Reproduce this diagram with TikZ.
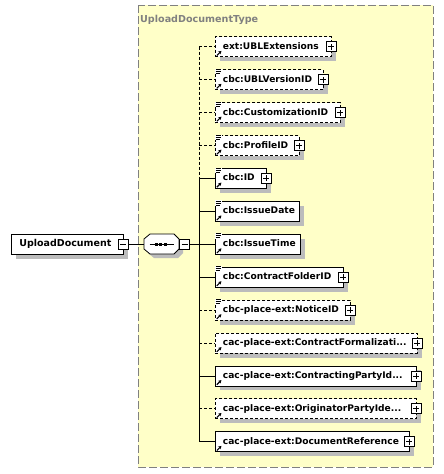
\documentclass[tikz,border=0pt]{standalone}
\usepackage{fontspec}
\setmainfont{DejaVu Sans}
\usetikzlibrary{arrows.meta}
\definecolor{bgyellow}{RGB}{255,255,200}
\definecolor{shadowgray}{RGB}{188,188,188}
\definecolor{framegray}{RGB}{128,128,128}
\newcommand{\docicon}[1]{%
  \fill[white] ([xshift=-0.5pt,yshift=0.5pt]#1.north west) rectangle ++(7,5.5);
  \draw[line width=0.7pt] (#1.north west) ++(0.5,0) -- ++(5.5,0);
  \draw[line width=0.7pt] (#1.north west) ++(0.5,2) -- ++(5.5,0);
  \draw[line width=0.7pt] (#1.north west) ++(0.5,4) -- ++(4.5,0);
  \draw[line width=0.8pt] (#1.north west) ++(0,5.2) -- ++(0,1.5);}
\newcommand{\reficon}[1]{%
  \draw[line width=1.1pt,-{Stealth[length=3pt,width=3.6pt]}] ([xshift=1.8pt,yshift=1.6pt]#1.south west) -- ++(4.6,-4.6);}
\begin{document}
\begin{tikzpicture}[x=1pt,y=-1pt,
  shadowed/.style={preaction={draw=none,solid,fill=shadowgray,transform canvas={xshift=4.5pt,yshift=-4.5pt}}},
  elem/.style={draw=black,line width=0.8pt,fill=white,minimum height=20pt,
    inner xsep=0pt,inner ysep=0pt,anchor=west,align=left,text width=#1,
    text height=7pt,text depth=2pt,font=\fontsize{9.1}{10}\selectfont\bfseries,shadowed},
  opt/.style={dash pattern=on 3pt off 2pt},
  pmbox/.style={draw=black,fill=white,line width=0.8pt,minimum size=10pt,inner sep=0pt},
  plusbox/.style={pmbox,path picture={
    \draw[line width=0.8pt] ([xshift=-3pt]path picture bounding box.center) -- ([xshift=3pt]path picture bounding box.center);
    \draw[line width=0.8pt] ([yshift=-3pt]path picture bounding box.center) -- ([yshift=3pt]path picture bounding box.center);}},
  minusbox/.style={pmbox,path picture={
    \draw[line width=0.8pt] ([xshift=-3pt]path picture bounding box.center) -- ([xshift=3pt]path picture bounding box.center);}},
  conn/.style={line width=0.8pt}
]
\useasboundingbox (0,0) rectangle (444,474);
% container
\draw[framegray,line width=1pt,dash pattern=on 8pt off 3pt,fill=bgyellow] (138,5) rectangle (433,467);
\node[anchor=base west,inner sep=0pt,text=framegray,font=\fontsize{9.6}{11}\selectfont\bfseries] (title) at (140,22) {UploadDocumentType};

% root
\node[elem=112pt,font=\fontsize{9.5}{11}\selectfont\bfseries] (root) at (11,244) {\hspace*{8pt}UploadDocument};
\node[minusbox] (rm) at ([xshift=-0.5pt]root.east) {};

% sequence
\node[minimum width=35pt,minimum height=20pt,inner sep=0pt] (seq) at (161.5,244) {};
\fill[shadowgray] (148,243) -- (154,238) -- (178,238) -- (183,243) -- (183,253) -- (178,258) -- (154,258) -- (148,253) -- cycle;
\draw[line width=0.8pt,fill=white] (144,239) -- (150,234) -- (174,234) -- (179,239) -- (179,249) -- (174,254) -- (150,254) -- (144,249) -- cycle;
\draw[line width=0.8pt] (149.5,244) -- (173.5,244);
\foreach \dx in {155,159.3,163.6} {\fill (\dx,242.5) rectangle ++(3,3);}
\node[minusbox] (sm) at (184.5,244) {};
\coordinate (trunk) at (199,244);

\draw[conn] (rm) -- (seq);
\draw[conn] (sm) -- (trunk);

% children
\node[elem=116pt,opt] (c1) at (215,46.7) {\hspace*{7.5pt}ext:UBLExtensions};
\node[elem=108pt,opt] (c2) at (215,79.6) {\hspace*{7.5pt}cbc:UBLVersionID};
\node[elem=125pt,opt] (c3) at (215,112.5) {\hspace*{7.5pt}cbc:CustomizationID};
\node[elem=84pt,opt] (c4) at (215,145.5) {\hspace*{7.5pt}cbc:ProfileID};
\node[elem=51pt] (c5) at (215,178.4) {\hspace*{7.5pt}cbc:ID};
\node[elem=84pt] (c6) at (215,211.3) {\hspace*{7.5pt}cbc:IssueDate};
\node[elem=85pt] (c7) at (215,244.2) {\hspace*{7.5pt}cbc:IssueTime};
\node[elem=128pt] (c8) at (215,277.1) {\hspace*{7.5pt}cbc:ContractFolderID};
\node[elem=135pt,opt] (c9) at (215,310.1) {\hspace*{7.5pt}cbc-place-ext:NoticeID};
\node[elem=202pt,opt] (c10) at (215,343) {\hspace*{7.5pt}cac-place-ext:ContractFormalizati...};
\node[elem=201pt] (c11) at (215,375.9) {\hspace*{7.5pt}cac-place-ext:ContractingPartyId...};
\node[elem=201pt,opt] (c12) at (215,408.8) {\hspace*{7.5pt}cac-place-ext:OriginatorPartyIde...};
\node[elem=194pt] (c13) at (215,441.7) {\hspace*{7.5pt}cac-place-ext:DocumentReference};

% plus boxes
\foreach \n in {c1,c2,c3,c4,c5,c8,c9,c10,c11,c12,c13}
  {\node[plusbox] (p\n) at ([xshift=-0.8pt]\n.east) {};}

% icons
\foreach \n in {c2,c3,c4,c5,c6,c7,c8,c9} {\docicon{\n}}
\foreach \n in {c1,c2,c3,c4,c5,c6,c7,c8,c9,c10,c11,c12,c13} {\reficon{\n}}

% trunk
\draw[conn,opt] (c1.west -| trunk) -- (c5.west -| trunk);
\draw[conn] (c5.west -| trunk) -- (c13.west -| trunk);
\foreach \n in {c1,c2,c3,c4,c9,c10,c12}
  {\draw[conn,opt] (\n.west -| trunk) -- (\n.west);}
\foreach \n in {c5,c6,c7,c8,c11,c13}
  {\draw[conn] (\n.west -| trunk) -- (\n.west);}
\end{tikzpicture}
\end{document}
